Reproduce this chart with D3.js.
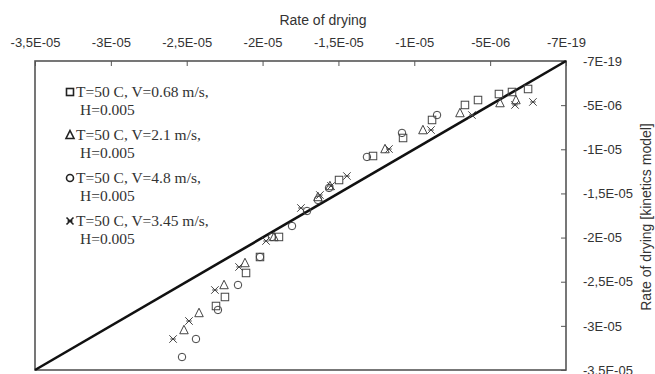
<!DOCTYPE html>
<html>
<head>
<meta charset="utf-8">
<script src="https://cdn.jsdelivr.net/npm/d3@7"></script>
<style>
  body { margin: 0; background: #fff; }
  .axis text { font-family: "Liberation Sans", Arial, sans-serif; font-size: 13px; fill: #333; }
  .axis line { stroke: #555; }
  .legend text { font-family: "Liberation Serif", "Times New Roman", serif; font-size: 15.5px; fill: #333; }
</style>
</head>
<body>
<div id="chart"></div>
<script>
/*********************************************************/
// Data (values in units of 1E-06)
const tickValues = [-35, -30, -25, -20, -15, -10, -5, 0];
const tickLabels = ["-3,5E-05", "-3E-05", "-2,5E-05", "-2E-05", "-1,5E-05", "-1E-05", "-5E-06", "-7E-19"];

const seriesNames = [
  ["T=50 C, V=0.68 m/s,", "H=0.005"],
  ["T=50 C, V=2.1 m/s,", "H=0.005"],
  ["T=50 C, V=4.8 m/s,", "H=0.005"],
  ["T=50 C, V=3.45 m/s,", "H=0.005"]
];
const seriesShapes = ["square", "triangle", "circle", "star"];

// V=0.68
const sqX = [-23.07, -22.48, -21.09, -20.17, -18.92, -14.96, -12.72, -10.74, -8.83, -6.66, -5.80, -4.42, -3.56, -2.50];
const sqY = [-27.75, -26.73, -24.01, -22.20, -19.93, -13.48, -10.76, -8.72, -6.68, -4.98, -4.42, -3.74, -3.51, -3.17];
// V=2.1
const triX = [-25.18, -24.19, -22.54, -21.16, -19.25, -16.35, -15.56, -11.93, -9.43, -6.99, -4.35, -3.30];
const triY = [-30.47, -28.54, -25.37, -22.88, -19.93, -15.40, -14.16, -9.97, -7.82, -5.89, -4.76, -4.42];
// V=4.8
const cirX = [-25.31, -24.39, -22.94, -21.62, -20.17, -19.38, -18.06, -17.07, -16.35, -15.62, -13.12, -10.81, -8.50];
const cirY = [-33.53, -31.49, -28.20, -25.37, -22.20, -19.93, -18.69, -16.99, -15.74, -14.38, -10.87, -8.15, -6.12];
// V=3.45
const starX = [-25.90, -24.85, -23.14, -21.55, -19.77, -17.47, -16.22, -15.49, -14.44, -11.67, -8.90, -6.20, -3.36, -2.18];
const starY = [-31.49, -29.45, -25.94, -23.33, -20.39, -16.65, -15.18, -14.16, -13.03, -9.97, -7.82, -6.12, -4.98, -4.64];

/*********************************************************/
const svgWidth = 655;
const svgHeight = 374;
const plot = { left: 35, right: 566, top: 61, bottom: 370 };

const svg = d3.select("#chart")
  .append("svg")
  .attr("width", svgWidth)
  .attr("height", svgHeight);

const xScale = d3.scaleLinear().domain([-35, 0]).range([plot.left, plot.right]);
const yScale = d3.scaleLinear().domain([0, -35]).range([plot.top, plot.bottom]);

/************** Axes ************/
// top axis, ticks pointing into the plot
const topAxis = d3.axisTop(xScale)
  .tickValues(tickValues)
  .tickSizeInner(-5)
  .tickSizeOuter(0)
  .tickPadding(14)
  .tickFormat((d, i) => tickLabels[i]);

svg.append("g")
  .attr("class", "axis")
  .attr("transform", `translate(0,${plot.top})`)
  .call(topAxis)
  .call(g => g.select(".domain").remove());

// right axis, ticks pointing into the plot
const rightAxis = d3.axisRight(yScale)
  .tickValues(tickValues.slice().reverse())
  .tickSizeInner(-5)
  .tickSizeOuter(0)
  .tickPadding(17)
  .tickFormat((d, i) => tickLabels.slice().reverse()[i]);

svg.append("g")
  .attr("class", "axis")
  .attr("transform", `translate(${plot.right},0)`)
  .call(rightAxis)
  .call(g => g.select(".domain").remove());

// frame
svg.append("rect")
  .attr("x", plot.left)
  .attr("y", plot.top)
  .attr("width", plot.right - plot.left)
  .attr("height", plot.bottom - plot.top)
  .attr("fill", "none")
  .attr("stroke", "#555")
  .attr("stroke-width", 1.6);

// axis titles
svg.append("text")
  .text("Rate of drying")
  .attr("x", 323)
  .attr("y", 25)
  .attr("text-anchor", "middle")
  .attr("font-family", "Liberation Sans, Arial, sans-serif")
  .attr("font-size", "14px")
  .attr("fill", "#333");

svg.append("text")
  .text("Rate of drying [kinetics model]")
  .attr("transform", "translate(651,217) rotate(-90)")
  .attr("text-anchor", "middle")
  .attr("font-family", "Liberation Sans, Arial, sans-serif")
  .attr("font-size", "14px")
  .attr("fill", "#333");

/************** Diagonal line ************/
svg.append("line")
  .attr("x1", xScale(-35))
  .attr("y1", yScale(-35))
  .attr("x2", xScale(0))
  .attr("y2", yScale(0))
  .attr("stroke", "#111")
  .attr("stroke-width", 2.6);

/************** Markers ************/
function drawMarker(g, shape, x, y, size) {
  const h = size / 2;
  if (shape === "square") {
    g.append("rect").attr("x", x - h).attr("y", y - h).attr("width", size).attr("height", size);
  } else if (shape === "triangle") {
    g.append("path").attr("d", `M${x},${y - h - 1}L${x + h + 0.5},${y + h}L${x - h - 0.5},${y + h}Z`);
  } else if (shape === "circle") {
    g.append("circle").attr("cx", x).attr("cy", y).attr("r", h);
  } else {
    g.append("path").attr("d",
      `M${x - h},${y - h}L${x + h},${y + h}M${x - h},${y + h}L${x + h},${y - h}M${x - h + 1},${y}L${x + h - 1},${y}`);
  }
}

const allSeries = [
  { shape: "square", xs: sqX, ys: sqY },
  { shape: "triangle", xs: triX, ys: triY },
  { shape: "circle", xs: cirX, ys: cirY },
  { shape: "star", xs: starX, ys: starY }
];

const markers = svg.append("g")
  .attr("fill", "none")
  .attr("stroke", "#444")
  .attr("stroke-width", 1);

allSeries.forEach(s => {
  s.xs.forEach((v, i) => drawMarker(markers, s.shape, xScale(v), yScale(s.ys[i]), 7.5));
});

/************** Legend ************/
const legend = svg.append("g").attr("class", "legend");
seriesNames.forEach((lines, i) => {
  const y0 = 92 + i * 43;
  const mg = legend.append("g")
    .attr("fill", "none")
    .attr("stroke", "#222")
    .attr("stroke-width", 1.6);
  drawMarker(mg, seriesShapes[i], 70, y0, 7);
  legend.append("text").text(lines[0]).attr("x", 76).attr("y", y0 + 5);
  legend.append("text").text(lines[1]).attr("x", 80).attr("y", y0 + 23);
});
</script>
</body>
</html>
